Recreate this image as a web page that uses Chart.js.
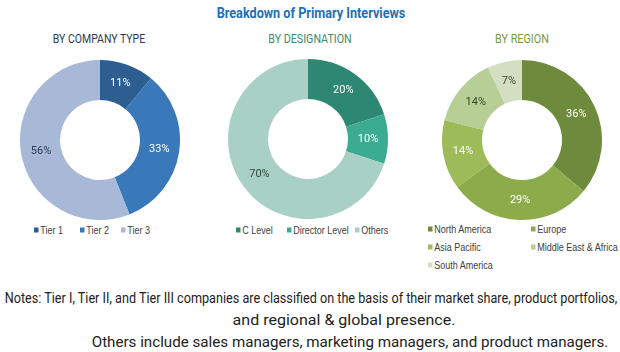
<!DOCTYPE html>
<html>
<head>
<meta charset="utf-8">
<script src="https://cdn.jsdelivr.net/npm/chart.js@4"></script>
<style>
  body { margin: 0; background: #fff; }
  #wrap { position: relative; width: 620px; height: 352px; overflow: hidden; font-family: Roboto, 'Liberation Sans', sans-serif; }
  .txt { position: absolute; white-space: nowrap; transform: translate(-50%, -50%); }
  #titulo { left: 311px; top: 13px; font-size: 14px; font-weight: bold; color: #1f70b8; }
  .sub { top: 38px; font-size: 13px; }
  .pie { position: absolute; width: 160px; height: 160px; }
  .leyenda { position: absolute; font-family: 'Liberation Sans', Arial, sans-serif; font-size: 10px; color: #404040; }
  .item { position: absolute; white-space: nowrap; transform: translateY(-50%) scaleX(0.9); transform-origin: left center; }
  .item i { display: inline-block; width: 5px; height: 5px; margin-right: 2px; vertical-align: 1px; }
  .nota { font-size: 14px; color: #222; }
</style>
</head>
<body>
<div id="wrap">
  <div id="titulo" class="txt fit" data-w="189">Breakdown of Primary Interviews</div>
  <div class="txt sub fit" data-w="92" style="left:99px; color:#2b3b55;">BY COMPANY TYPE</div>
  <div class="txt sub fit" data-w="83" style="left:310px; color:#3d8a6c;">BY DESIGNATION</div>
  <div class="txt sub fit" data-w="54" style="left:522px; color:#7a993c;">BY REGION</div>

  <div class="pie" style="left:20px; top:60px;"><canvas id="g1"></canvas></div>
  <div class="pie" style="left:228px; top:59px;"><canvas id="g2"></canvas></div>
  <div class="pie" style="left:442px; top:60px;"><canvas id="g3"></canvas></div>

  <div id="ley1" class="leyenda"></div>
  <div id="ley2" class="leyenda"></div>
  <div id="ley3" class="leyenda"></div>

  <div class="txt nota fit" data-w="612" style="left:311px; top:298px;">Notes: Tier I, Tier II, and Tier III companies are classified on the basis of their market share, product portfolios,</div>
  <div class="txt nota fit" data-w="223" style="left:344px; top:320px;">and regional &amp; global presence.</div>
  <div class="txt nota fit" data-w="516" style="left:350px; top:342px;">Others include sales managers, marketing managers, and product managers.</div>
</div>

<script>
// datos
const tiposEmpresa = ['Tier 1', 'Tier 2', 'Tier 3'];
const valoresEmpresa = [11, 33, 56];

const designaciones = ['C Level', 'Director Level', 'Others'];
const valoresDesignacion = [20, 10, 70];

const regiones = ['North America', 'Europe', 'Asia Pacific', 'Middle East & Africa', 'South America'];
const valoresRegion = [36, 29, 14, 14, 7];

const coloresEmpresa = ['#2d5e91', '#3978b9', '#a7b9d7'];
const coloresDesignacion = ['#2e8772', '#3bab91', '#a9d0c4'];
const coloresRegion = ['#6e8b3d', '#8cac4c', '#9dbb58', '#b7ce97', '#d3dec3'];

const textoEmpresa = ['#fff', '#fff', '#2b3b55'];
const textoDesignacion = ['#fff', '#fff', '#2e4a3e'];
const textoRegion = ['#fff', '#fff', '#fff', '#3a4a25', '#3a4a25'];

// ajustar ancho de los textos condensados
document.querySelectorAll('.fit').forEach(el => {
  const s = parseFloat(el.dataset.w) / el.offsetWidth;
  el.style.transform = 'translate(-50%, -50%) scaleX(' + s.toFixed(3) + ')';
});

// etiquetas de porcentaje dentro del anillo
const etiquetas = {
  id: 'etiquetas',
  afterDatasetsDraw(chart, args, opts) {
    const ctx = chart.ctx;
    const meta = chart.getDatasetMeta(0);
    ctx.save();
    ctx.font = "11px Roboto, 'Liberation Sans', sans-serif";
    ctx.textAlign = 'center';
    ctx.textBaseline = 'middle';
    meta.data.forEach((arc, i) => {
      const p = arc.tooltipPosition();
      ctx.fillStyle = opts.colores[i];
      ctx.fillText(chart.data.datasets[0].data[i] + '%', p.x, p.y);
    });
    ctx.restore();
  }
};

function crearDona(id, labels, valores, colores, texto) {
  return new Chart(document.getElementById(id), {
    type: 'doughnut',
    data: {
      labels: labels,
      datasets: [{ data: valores, backgroundColor: colores, borderWidth: 0 }]
    },
    options: {
      responsive: true,
      maintainAspectRatio: false,
      animation: false,
      cutout: '50%',
      layout: { padding: 0 },
      plugins: {
        legend: { display: false },
        tooltip: { enabled: false },
        etiquetas: { colores: texto }
      }
    },
    plugins: [etiquetas]
  });
}

crearDona('g1', tiposEmpresa, valoresEmpresa, coloresEmpresa, textoEmpresa);
crearDona('g2', designaciones, valoresDesignacion, coloresDesignacion, textoDesignacion);
crearDona('g3', regiones, valoresRegion, coloresRegion, textoRegion);

// leyendas
function crearLeyenda(id, labels, colores, posiciones) {
  const cont = document.getElementById(id);
  labels.forEach((l, i) => {
    const d = document.createElement('div');
    d.className = 'item';
    d.style.left = posiciones[i][0] + 'px';
    d.style.top = posiciones[i][1] + 'px';
    d.innerHTML = '<i style="background:' + colores[i] + '"></i>' + l;
    cont.appendChild(d);
  });
}

crearLeyenda('ley1', tiposEmpresa, coloresEmpresa, [[34, 230], [80, 230], [121, 230]]);
crearLeyenda('ley2', designaciones, coloresDesignacion, [[236, 230], [287, 230], [355, 230]]);
crearLeyenda('ley3', regiones, coloresRegion, [[428, 229], [531, 229], [428, 247], [531, 247], [428, 265]]);
</script>
</body>
</html>
